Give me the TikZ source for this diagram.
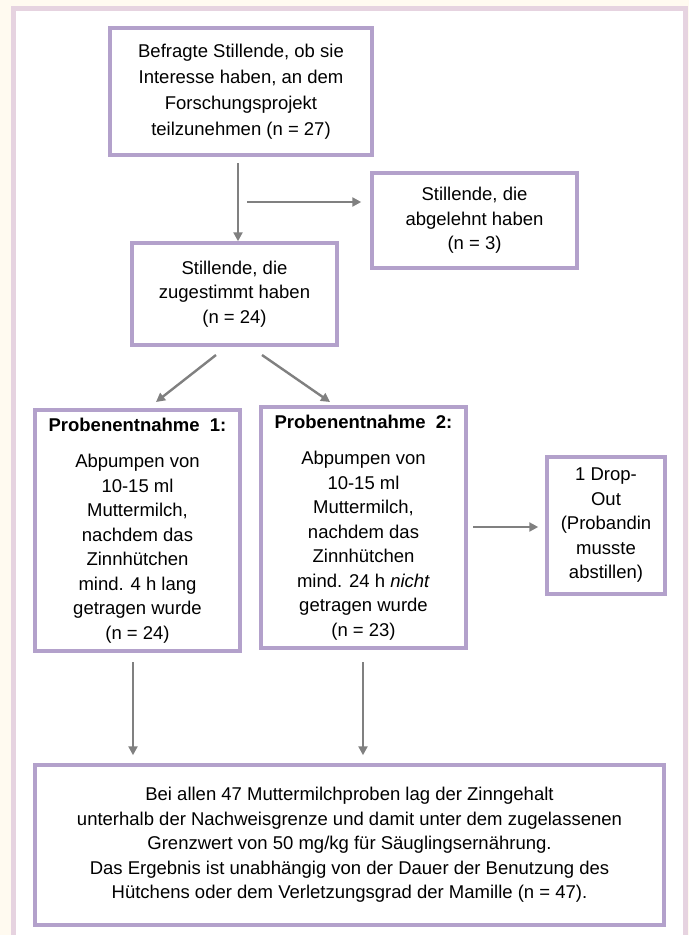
\documentclass[tikz,border=0pt]{standalone}
\usepackage{fontspec}
\setmainfont{Liberation Sans}
\usetikzlibrary{arrows.meta,positioning}
\definecolor{pagecream}{HTML}{FFFAF0}
\definecolor{framepink}{HTML}{E6D3E0}
\definecolor{boxpurple}{HTML}{B3A1CB}
\definecolor{arrowgray}{HTML}{808080}

\begin{document}
\begin{tikzpicture}[
  x=1pt,y=-1pt,
  >={Triangle[length=9pt,width=9pt]},
  box/.style={draw=boxpurple,line width=3.5pt,fill=white,align=center,
    inner sep=0pt,font=\fontsize{18.5}{24.5}\selectfont},
  flow/.style={->,line width=2.4pt,arrowgray}
]
\useasboundingbox (0,0) rectangle (689,935);
\fill[pagecream] (0,0) rectangle (689,935);
\draw[framepink,line width=5pt,fill=white] (13.5,8.5) rectangle (685.5,945);

\node[box,minimum width=262pt,minimum height=127pt,
  font=\fontsize{18.5}{26}\selectfont] (ask) at (241,91.5)
  {Befragte Stillende, ob sie\\Interesse haben, an dem\\Forschungsprojekt\\teilzunehmen (n = 27)};
\node[box,minimum width=205pt,minimum height=95pt] (refuse) at (474.5,220.5)
  {Stillende, die\\abgelehnt haben\\(n = 3)};
\node[box,minimum width=205pt,minimum height=102pt] (agree) at (234.5,294)
  {Stillende, die\\zugestimmt haben\\(n = 24)};
\node[box,minimum width=205pt,minimum height=241pt] (probe1) at (137.5,530.5)
  {\textbf{Probenentnahme\ \ 1:}\\[12pt]Abpumpen von\\10-15 ml\\Muttermilch,\\nachdem das\\Zinnhütchen\\mind. 4 h lang\\getragen wurde\\(n = 24)};
\node[box,minimum width=205pt,minimum height=241pt] (probe2) at (363.5,527.5)
  {\textbf{Probenentnahme\ \ 2:}\\[12pt]Abpumpen von\\10-15 ml\\Muttermilch,\\nachdem das\\Zinnhütchen\\mind. 24 h \textit{nicht}\\getragen wurde\\(n = 23)};
\node[box,minimum width=118pt,minimum height=137pt] (drop) at (606,525.5)
  {1 Drop-\\Out\\(Probandin\\musste\\abstillen)};
\node[box,minimum width=629pt,minimum height=160pt] (result) at (349.5,845)
  {Bei allen 47 Muttermilchproben lag der Zinngehalt\\
   unterhalb der Nachweisgrenze und damit unter dem zugelassenen\\
   Grenzwert von 50 mg/kg für Säuglingsernährung.\\
   Das Ergebnis ist unabhängig von der Dauer der Benutzung des\\
   Hütchens oder dem Verletzungsgrad der Mamille (n = 47).};

% arrow start points
\coordinate (down) at (238,163);
\coordinate (side) at (247,202);
\coordinate (left) at (216,355);
\coordinate (leftend) at (156,402);
\coordinate (right) at (262,355);
\coordinate (rightend) at (330,402);
\coordinate (out) at (473,527);

\draw[flow] (down) -- (down |- agree.north);
\draw[flow,shorten >=9pt] (side) -- (side -| refuse.west);
\draw[flow] (left) -- (leftend);
\draw[flow] (right) -- (rightend);
\draw[flow,shorten >=7pt] (out) -- (out -| drop.west);
\foreach \x/\src in {133/probe1,363/probe2}{
  \coordinate (s\src) at (\x,662);
  \draw[flow,shorten >=8pt] (s\src) -- (s\src |- result.north);
}
\end{tikzpicture}
\end{document}
